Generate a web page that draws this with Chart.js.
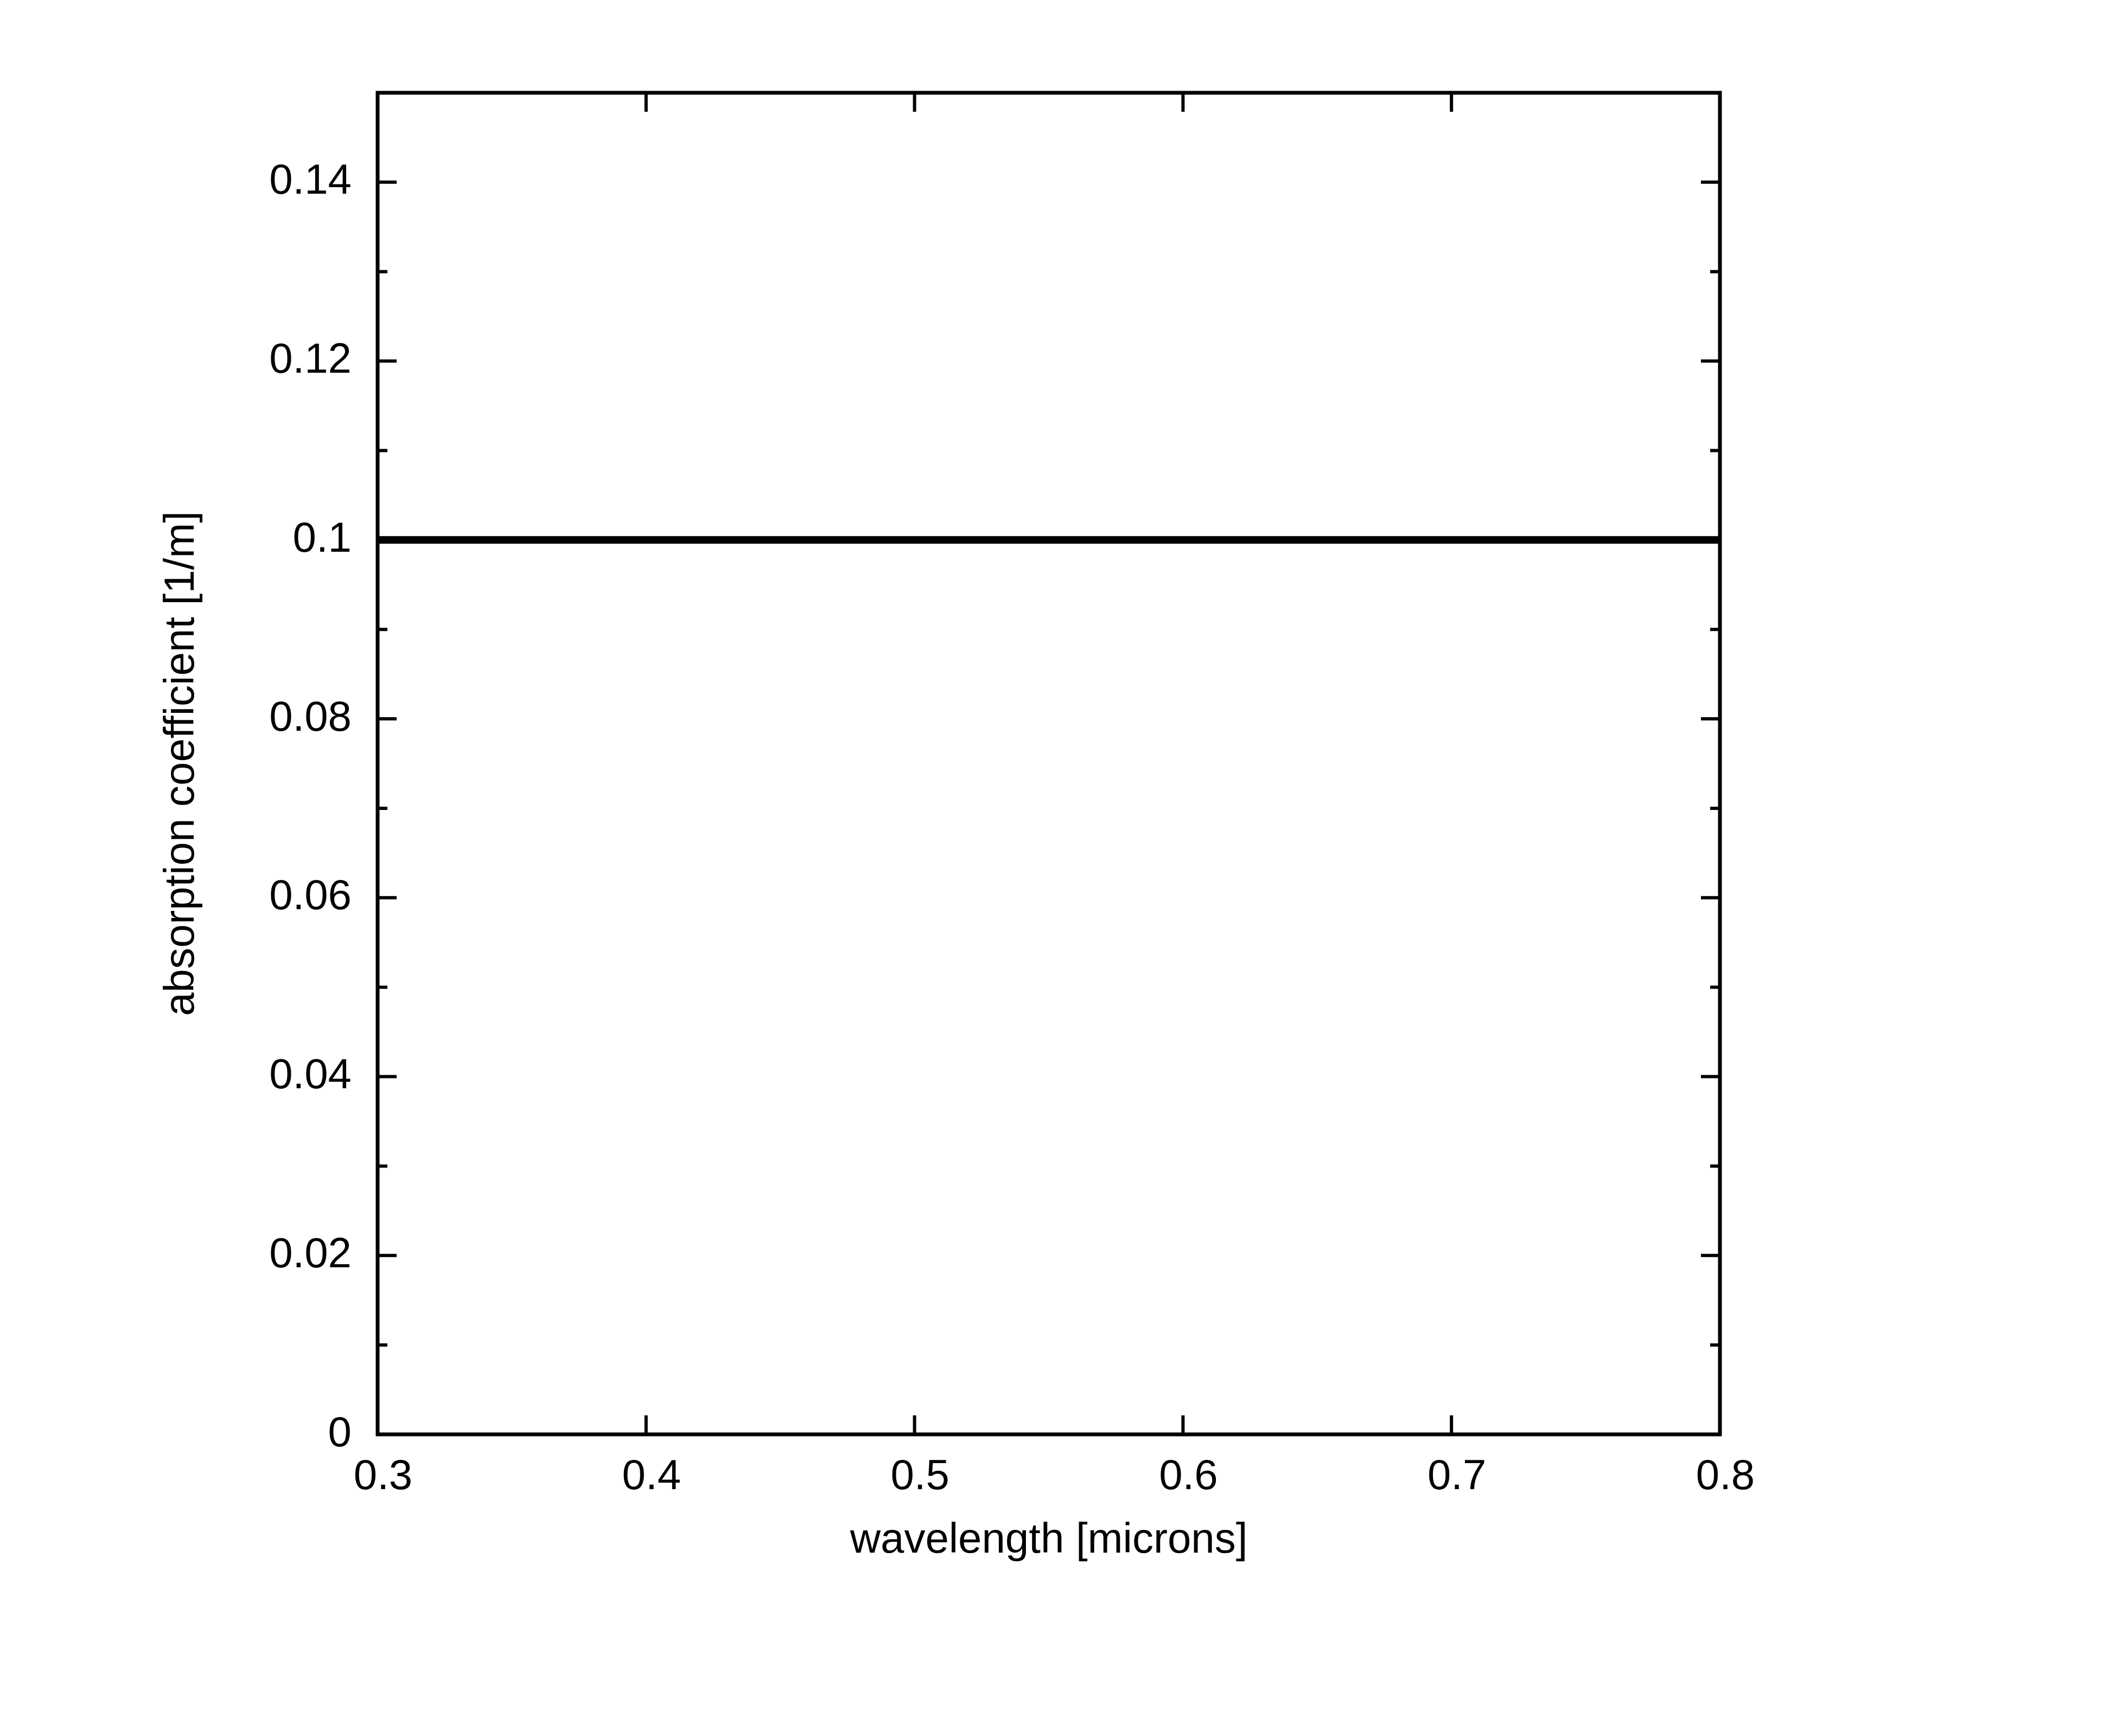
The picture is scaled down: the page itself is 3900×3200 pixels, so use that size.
<!DOCTYPE html>
<html>
<head>
<meta charset="utf-8">
<script src="https://cdn.jsdelivr.net/npm/chart.js@4/dist/chart.umd.min.js"></script>
<style>
  html, body { margin: 0; padding: 0; background: #fff; }
  canvas { display: block; }
</style>
</head>
<body>
<canvas id="chart" width="3900" height="3200"></canvas>
<script>
// data
var wavelengths = [0.3, 0.4, 0.5, 0.6, 0.7, 0.8];
var absorption = [0.1, 0.1, 0.1, 0.1, 0.1, 0.1];

// tick values
var xTicks = [0.3, 0.4, 0.5, 0.6, 0.7, 0.8];
var yTicks = [0, 0.02, 0.04, 0.06, 0.08, 0.1, 0.12, 0.14];
var yMinor = [0.01, 0.03, 0.05, 0.07, 0.09, 0.11, 0.13];

var points = wavelengths.map(function(w, i) {
  return { x: w, y: absorption[i] };
});

var font = { family: '"Liberation Sans", Arial, Helvetica, sans-serif', size: 78 };

// box round the plot with inward ticks on all four sides (gnuplot style)
var frame = {
  id: 'frame',
  afterDatasetsDraw: function(chart) {
    var ctx = chart.ctx;
    var a = chart.chartArea;
    var x = chart.scales.x, y = chart.scales.y;
    ctx.save();
    ctx.strokeStyle = '#000';
    ctx.lineWidth = 6;
    ctx.beginPath();
    xTicks.forEach(function(v) {
      var px = x.getPixelForValue(v);
      ctx.moveTo(px, a.bottom); ctx.lineTo(px, a.bottom - 35);
      ctx.moveTo(px, a.top); ctx.lineTo(px, a.top + 35);
    });
    yTicks.forEach(function(v) {
      var py = y.getPixelForValue(v);
      ctx.moveTo(a.left, py); ctx.lineTo(a.left + 35, py);
      ctx.moveTo(a.right, py); ctx.lineTo(a.right - 35, py);
    });
    yMinor.forEach(function(v) {
      var py = y.getPixelForValue(v);
      ctx.moveTo(a.left, py); ctx.lineTo(a.left + 18, py);
      ctx.moveTo(a.right, py); ctx.lineTo(a.right - 18, py);
    });
    ctx.stroke();
    ctx.lineWidth = 7;
    ctx.strokeRect(a.left, a.top, a.right - a.left, a.bottom - a.top);
    ctx.restore();
  }
};

var ctx = document.getElementById('chart').getContext('2d');
var chart = new Chart(ctx, {
  type: 'line',
  data: {
    datasets: [{
      data: points,
      borderColor: '#000',
      borderWidth: 14,
      pointRadius: 0,
      tension: 0,
      fill: false
    }]
  },
  options: {
    responsive: false,
    animation: false,
    layout: { padding: { top: 171, right: 730, bottom: 0, left: 0 } },
    plugins: { legend: { display: false }, tooltip: { enabled: false } },
    scales: {
      x: {
        type: 'linear',
        position: 'bottom',
        min: 0.3,
        max: 0.8,
        afterBuildTicks: function(s) { s.ticks = xTicks.map(function(v) { return { value: v }; }); },
        afterFit: function(s) { s.height = 556; },
        grid: { display: false, drawTicks: false },
        border: { display: false },
        ticks: {
          autoSkip: false,
          maxRotation: 0,
          padding: 33,
          labelOffset: 10,
          color: '#000',
          font: font,
          callback: function(v) { return String(v); }
        },
        title: {
          display: true,
          text: 'wavelength [microns]',
          color: '#000',
          font: font,
          padding: { top: 0, bottom: 313 }
        }
      },
      y: {
        type: 'linear',
        position: 'left',
        min: 0,
        max: 0.15,
        afterBuildTicks: function(s) { s.ticks = yTicks.map(function(v) { return { value: v }; }); },
        afterFit: function(s) { s.width = 696; },
        grid: { display: false, drawTicks: false },
        border: { display: false },
        ticks: {
          autoSkip: false,
          padding: 48,
          color: '#000',
          font: font,
          callback: function(v) { return String(v); }
        },
        title: {
          display: true,
          text: 'absorption coefficient [1/m]',
          color: '#000',
          font: font,
          padding: { top: 289, bottom: 0 }
        }
      }
    }
  },
  plugins: [frame]
});
</script>
</body>
</html>
